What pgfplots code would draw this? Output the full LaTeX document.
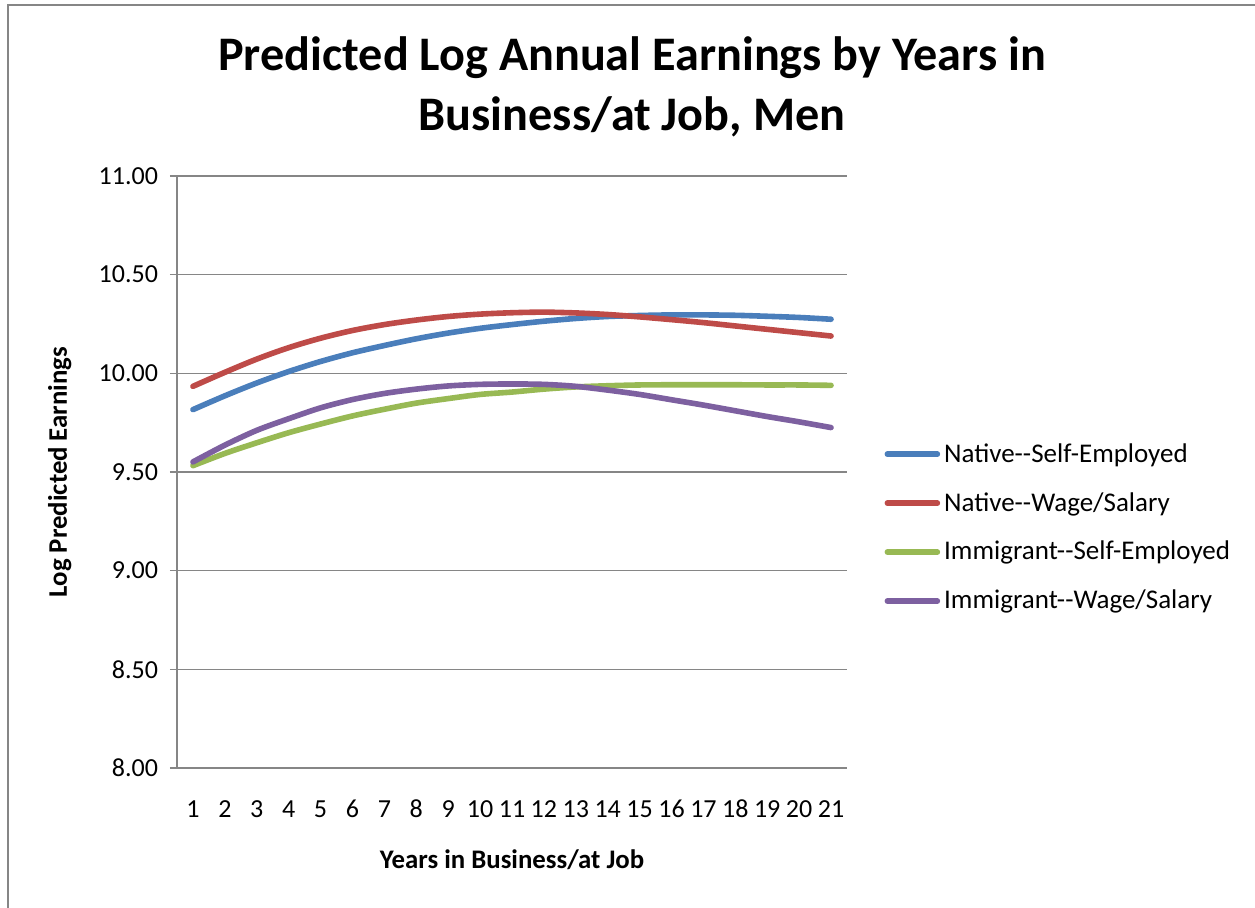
\documentclass[border=0pt]{standalone}
\usepackage{pgfplots}
\pgfplotsset{compat=1.18}
\usepackage{fontspec}
\setmainfont{Carlito}
\definecolor{cblue}{HTML}{4A7EBB}
\definecolor{cred}{HTML}{BE4B48}
\definecolor{cgreen}{HTML}{98B954}
\definecolor{cpurple}{HTML}{7D60A0}
\definecolor{cgrid}{HTML}{868686}
\begin{document}
\begin{tikzpicture}
\useasboundingbox (0,0) rectangle (627.5pt,454pt);
\draw[cgrid, line width=0.9pt] (4pt,-20pt) rectangle (650pt,451.5pt);
\node[font=\fontsize{24.1}{30}\selectfont\bfseries, align=center] at (316pt,410.5pt) {Predicted Log Annual Earnings by Years in\\Business/at Job, Men};
\begin{axis}[
  at={(88.5pt,70pt)}, anchor=south west,
  scale only axis, width=335pt, height=296pt,
  xmin=0.5, xmax=21.5, ymin=8, ymax=11,
  xtick={1,...,21},
  xticklabels={1,2,3,4,5,6,7,8,9,10,11,12,13,14,15,16,17,18,19,20,21},
  minor xtick={0.5,1.5,...,21.5},
  ytick={8,8.5,...,11},
  ymajorgrids,
  grid style={cgrid, line width=0.75pt},
  axis line style={cgrid, line width=0.75pt},
  axis x line*=bottom, axis y line*=left,
  tick align=outside,
  major tick length=3.5pt, minor tick length=3.5pt,
  x tick style={draw=none},
  minor x tick style={cgrid, line width=0.75pt},
  y tick style={cgrid, line width=0.75pt},
  tick label style={font=\fontsize{13}{15}\selectfont},
  yticklabel style={xshift=-2.5pt, /pgf/number format/.cd, fixed, fixed zerofill, precision=2, assume math mode=true},
  xticklabel style={yshift=-9pt, text height=8.5pt, text depth=0pt},
  xlabel={Years in Business/at Job},
  ylabel={Log Predicted Earnings},
  label style={font=\fontsize{13.4}{15}\selectfont\bfseries},
  xlabel style={at={(axis description cs:0.5,0)}, anchor=center, yshift=-46pt},
  ylabel style={at={(axis description cs:-0.175,0.5)}, anchor=center},
  legend style={draw=none, fill=none, at={(1.0555,0.406)}, anchor=west,
    font=\fontsize{13.5}{15}\selectfont, row sep=9.6pt, inner sep=0pt},
  legend cell align=left,
  legend image code/.code={\draw[#1, line cap=round] (1.5pt,0pt) -- (26.5pt,0pt);},
  every axis plot/.append style={line width=2.8pt, line cap=round, smooth},
  clip=false,
]
\addplot[cblue] coordinates {(1,9.816)(2,9.886)(3,9.951)(4,10.009)(5,10.060)(6,10.104)(7,10.141)(8,10.175)(9,10.204)(10,10.228)(11,10.247)(12,10.264)(13,10.278)(14,10.288)(15,10.293)(16,10.296)(17,10.296)(18,10.294)(19,10.289)(20,10.283)(21,10.274)};
\addlegendentry{Native-{}-Self-Employed}
\addplot[cred] coordinates {(1,9.934)(2,10.005)(3,10.072)(4,10.130)(5,10.178)(6,10.217)(7,10.247)(8,10.270)(9,10.288)(10,10.300)(11,10.307)(12,10.310)(13,10.306)(14,10.298)(15,10.286)(16,10.272)(17,10.257)(18,10.240)(19,10.223)(20,10.206)(21,10.189)};
\addlegendentry{Native-{}-Wage/Salary}
\addplot[cgreen] coordinates {(1,9.532)(2,9.594)(3,9.648)(4,9.699)(5,9.743)(6,9.784)(7,9.818)(8,9.849)(9,9.872)(10,9.893)(11,9.905)(12,9.920)(13,9.931)(14,9.937)(15,9.941)(16,9.942)(17,9.942)(18,9.942)(19,9.941)(20,9.941)(21,9.939)};
\addlegendentry{Immigrant-{}-Self-Employed}
\addplot[cpurple] coordinates {(1,9.551)(2,9.636)(3,9.711)(4,9.770)(5,9.825)(6,9.867)(7,9.898)(8,9.920)(9,9.936)(10,9.944)(11,9.946)(12,9.944)(13,9.934)(14,9.915)(15,9.893)(16,9.866)(17,9.839)(18,9.810)(19,9.781)(20,9.754)(21,9.725)};
\addlegendentry{Immigrant-{}-Wage/Salary}
\end{axis}
\end{tikzpicture}
\end{document}
